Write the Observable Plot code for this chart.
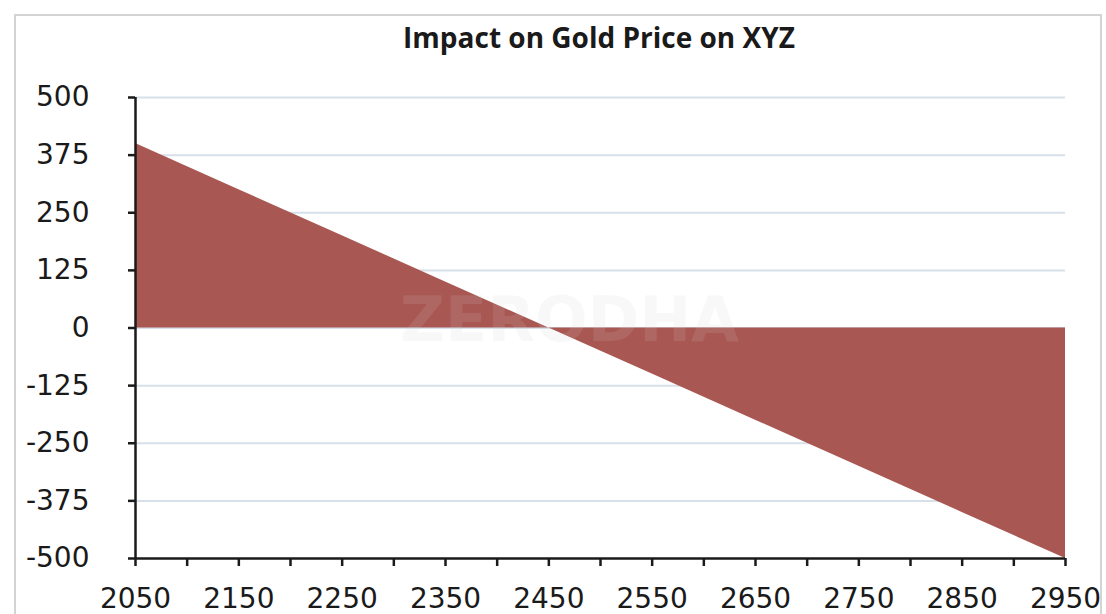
<!DOCTYPE html>
<html>
<head>
<meta charset="utf-8">
<script src="https://cdn.jsdelivr.net/npm/d3@7"></script>
<script src="https://cdn.jsdelivr.net/npm/@observablehq/plot@0.6"></script>
<style>
  html, body { margin: 0; padding: 0; background: #fff; }
  #wrap { position: relative; width: 1106px; height: 614px; overflow: hidden; }
  #frame { position: absolute; left: 14px; top: 14px; width: 1088px; height: 640px;
           border: 2px solid #d4d4d4; box-sizing: border-box; }
  #title { position: absolute; left: 0; width: 1198px; top: 18px; text-align: center;
           font-family: "Open Sans", sans-serif; font-weight: 700; font-size: 28px; color: #1a1a1a; }
  #chart { position: absolute; left: 0; top: 0; }
  #chart svg text { font-family: "DejaVu Sans", Verdana, sans-serif; }
</style>
</head>
<body>
<div id="wrap">
  <div id="frame"></div>
  <div id="title">Impact on Gold Price on XYZ</div>
  <div id="chart"></div>
</div>
<script>
const goldPrice = [2050, 2150, 2250, 2350, 2450, 2550, 2650, 2750, 2850, 2950];
const impact = [400, 300, 200, 100, 0, -100, -200, -300, -400, -500];
const yTicks = [-500, -375, -250, -125, 0, 125, 250, 375, 500];
const xLabelTicks = [2050, 2150, 2250, 2350, 2450, 2550, 2650, 2750, 2850, 2950];
const xMinorTicks = [2050, 2100, 2150, 2200, 2250, 2300, 2350, 2400, 2450, 2500, 2550, 2600, 2650, 2700, 2750, 2800, 2850, 2900, 2950];
const watermark = ["ZERODHA"];

const data = goldPrice.map((x, i) => ({x, y: impact[i]}));
const font = "DejaVu Sans, Verdana, sans-serif";

const plot = Plot.plot({
  width: 1106,
  height: 614,
  marginLeft: 135,
  marginRight: 41,
  marginTop: 97,
  marginBottom: 56,
  style: {background: "transparent", fontFamily: font, overflow: "visible"},
  x: {type: "linear", domain: [2050, 2950], axis: null},
  y: {type: "linear", domain: [-500, 500], axis: null},
  marks: [
    Plot.ruleY(yTicks.filter(d => d !== -500), {x1: 2050, x2: 2950, stroke: "#d7e0ea", strokeWidth: 2}),
    Plot.areaY(data, {x: "x", y: "y", fill: "#a95752"}),
    Plot.ruleX([2050], {y1: -500, y2: 500, stroke: "#1a1a1a", strokeWidth: 2.5}),
    Plot.ruleY([-500], {x1: 2050, x2: 2950, stroke: "#1a1a1a", strokeWidth: 2.5}),
    Plot.axisY({ticks: yTicks, tickSize: 7, tickPadding: 39, stroke: "#1a1a1a", strokeWidth: 2.5, fontSize: 28, fontFamily: font, fill: "#1a1a1a", tickFormat: d => String(d), label: null}),
    Plot.axisX({ticks: xMinorTicks, tickSize: 8, tickFormat: () => "", stroke: "#1a1a1a", strokeWidth: 2.5, label: null}),
    Plot.axisX({ticks: xLabelTicks, tickSize: 0, tickPadding: 30, fontSize: 28, fontFamily: font, fill: "#1a1a1a", tickFormat: d => String(d), label: null}),
    Plot.text(watermark, {x: 2470, y: 15, text: d => d, fontSize: 62, fontWeight: "bold", fill: "#d0d0d0", fillOpacity: 0.14, fontFamily: "Liberation Sans, Arial, sans-serif"})
  ]
});
document.getElementById("chart").appendChild(plot);
</script>
</body>
</html>
